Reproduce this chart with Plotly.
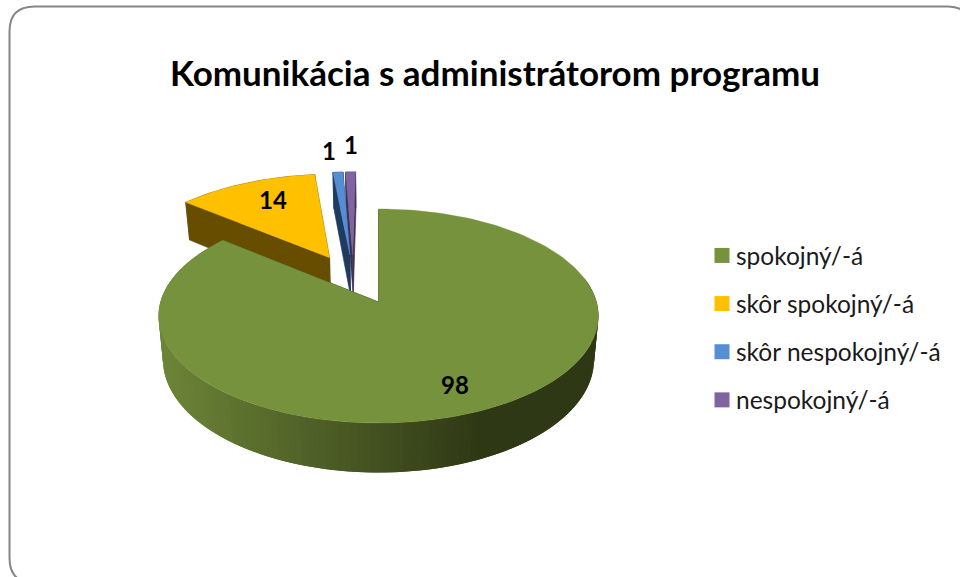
import math
import plotly.graph_objects as go

categories = ["spokojný/-á", "skôr spokojný/-á", "skôr nespokojný/-á", "nespokojný/-á"]
values = [98, 14, 1, 1]
title_text = "Komunikácia s administrátorom programu"

top_colors = ["#76923c", "#ffc000", "#558ed5", "#8064a2"]
side_colors = ["#3b4a1e", "#664d00", "#1f3b60", "#3f3150"]
label_xy = [(455, 384), (273, 199), (329, 150), (351, 144)]

FONT = "Lato, Calibri, Carlito, sans-serif"
CX, CY, RX, RY, K, DEPTH, EXPLODE, SHRINK = 378.5, 302, 218, 105.2, 0.131, 43, 0.25, 0.02
BACK_NUDGE = -0.012


def project(x, y, z=0.0):
    w = 1 + K * y
    return CX + RX * x / w * (1 - SHRINK * z), CY - RY * y / w + DEPTH * z / w


total = sum(values)
edges = [0.0]
for v in values:
    edges.append(edges[-1] + v / total * 2 * math.pi)
# slices run clockwise from twelve o'clock; the first slice's tip is the projection origin
mid0 = (edges[0] + edges[1]) / 2
OX, OY = -EXPLODE * math.sin(mid0), -EXPLODE * math.cos(mid0)

fig = go.Figure()


def poly(points, color, width=0.6):
    xs = [p[0] for p in points] + [points[0][0]]
    ys = [p[1] for p in points] + [points[0][1]]
    fig.add_trace(go.Scatter(x=xs, y=ys, mode="lines", fill="toself", fillcolor=color,
                             line=dict(color=color, width=width), hoverinfo="skip", showlegend=False))


def geometry(i):
    a0, a1 = edges[i], edges[i + 1]
    m = (a0 + a1) / 2
    ax = OX + EXPLODE * math.sin(m) + (BACK_NUDGE if i else 0)
    ay = OY + EXPLODE * math.cos(m)
    n = max(4, int((a1 - a0) / math.radians(1.5)))
    angles = [a0 + (a1 - a0) * j / n for j in range(n + 1)]
    rim = [(ax + math.sin(t), ay + math.cos(t)) for t in angles]
    return (ax, ay), rim, angles


def lerp(c1, c2, f):
    f = min(1, max(0, f))
    return "rgb(%d,%d,%d)" % tuple(round(a + (b - a) * f) for a, b in zip(c1, c2))


def sides(i):
    apex, rim, _ = geometry(i)
    for p in (rim[0], rim[-1]):
        poly([project(*apex), project(*p), project(*p, 1), project(*apex, 1)], side_colors[i])
    ring = [project(*p) for p in rim] + [project(*p, 1) for p in reversed(rim)]
    poly(ring, side_colors[i])


def top(i):
    apex, rim, _ = geometry(i)
    poly([project(*apex)] + [project(*p) for p in rim], top_colors[i], 0.4)


# back slices first, then the front one
for i in (3, 2, 1):
    sides(i)
    top(i)

# first slice: cut faces, shaded outer wall, top
apex, rim, angles = geometry(0)
for p in (rim[-1], rim[0]):
    poly([project(*apex), project(*p), project(*p, 1), project(*apex, 1)], "#2f3815")
light, dark = (108, 132, 55), (47, 56, 21)
for j in range(len(rim) - 1):
    a = rim[j]
    b = rim[min(j + 2, len(rim) - 1)]
    pa = project(*a)
    if a[1] > 0.25 and pa[0] > CX:
        continue
    f = (165 - pa[0]) / (165 - 483)
    poly([pa, project(*b), project(*b, 1), project(*a, 1)], lerp(light, dark, f), 0)
top(0)

# legend entries
for name, color in zip(categories, top_colors):
    fig.add_trace(go.Scatter(x=[None], y=[None], mode="markers", name=name, legendgroup=name,
                             marker=dict(symbol="square", size=15, color=color), hoverinfo="skip"))

annotations = [
    dict(x=x, y=y, xref="x", yref="y", text="<b>%d</b>" % v, showarrow=False,
         font=dict(family=FONT, size=24, color="#000000"))
    for v, (x, y) in zip(values, label_xy)
]

frame_l, frame_t, frame_r, frame_b, rad = 9.5, 6.5, 972, 583, 25
frame = (f"M {frame_l + rad} {frame_t} L {frame_r - rad} {frame_t} "
         f"Q {frame_r} {frame_t} {frame_r} {frame_t + rad} L {frame_r} {frame_b - rad} "
         f"Q {frame_r} {frame_b} {frame_r - rad} {frame_b} L {frame_l + rad} {frame_b} "
         f"Q {frame_l} {frame_b} {frame_l} {frame_b - rad} L {frame_l} {frame_t + rad} "
         f"Q {frame_l} {frame_t} {frame_l + rad} {frame_t} Z")

fig.update_layout(
    width=960, height=577, margin=dict(l=0, r=0, t=0, b=0),
    paper_bgcolor="#ffffff", plot_bgcolor="#ffffff",
    title=dict(text="<b>" + title_text + "</b>", x=495 / 960, xanchor="center",
               y=1 - 74 / 577, yanchor="middle", font=dict(family=FONT, size=35, color="#000000")),
    xaxis=dict(range=[0, 960], visible=False, fixedrange=True),
    yaxis=dict(range=[577, 0], visible=False, fixedrange=True),
    shapes=[dict(type="path", path=frame, xref="x", yref="y",
                 line=dict(color="#868686", width=2), fillcolor="rgba(0,0,0,0)", layer="below")],
    annotations=annotations,
    legend=dict(x=702 / 960, y=1 - 233 / 577, xanchor="left", yanchor="top", tracegroupgap=13.3,
                font=dict(family=FONT, size=24.5, color="#1a1a1a"), itemwidth=30,
                bgcolor="rgba(0,0,0,0)"),
    showlegend=True,
)

fig.write_html("out.html", config={"displayModeBar": False},
               post_script="document.body.style.margin='0';"
                           "document.querySelectorAll('.legendtext').forEach(function(t){"
                           "t.setAttribute('x', parseFloat(t.getAttribute('x')) - 6);});")
